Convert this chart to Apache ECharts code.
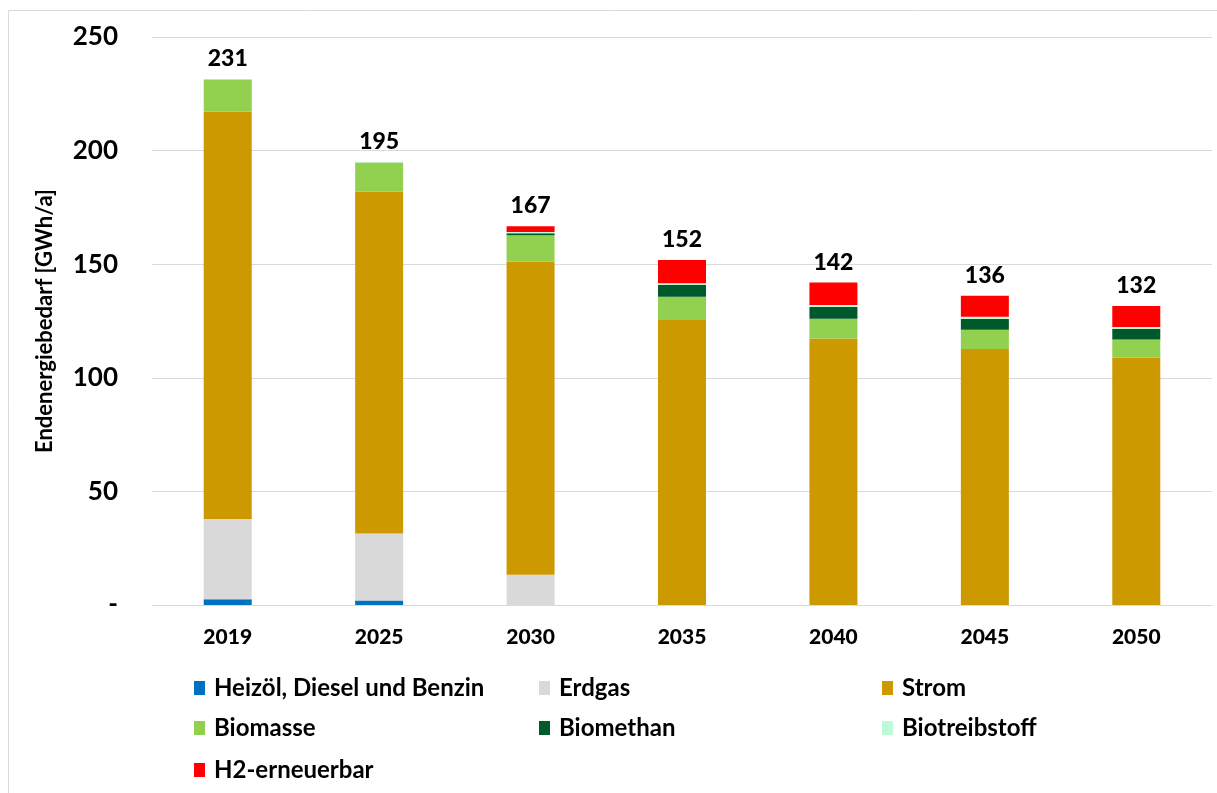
<!DOCTYPE html>
<html>
<head>
<meta charset="utf-8">
<script src="https://cdn.jsdelivr.net/npm/echarts@6/dist/echarts.min.js"></script>
<style>
  html, body { margin: 0; padding: 0; background: #fff; }
  #chart { width: 1217px; height: 793px; }
</style>
</head>
<body>
<div id="chart"></div>
<script>
// Endenergiebedarf nach Energieträger, GWh/a
const years = ['2019', '2025', '2030', '2035', '2040', '2045', '2050'];
const heizoel       = [2.5, 2.0, 0, 0, 0, 0, 0];
const erdgas        = [35.4, 29.5, 13.3, 0, 0, 0, 0];
const strom         = [179.2, 150.4, 137.8, 125.4, 117.3, 112.7, 108.8];
const biomasse      = [14.2, 12.9, 11.6, 10.3, 8.7, 8.5, 8.1];
const biomethan     = [0, 0, 0.9, 5.3, 5.2, 4.7, 4.7];
const biotreibstoff = [0, 0.3, 0.6, 0.6, 0.8, 1.0, 0.8];
const h2            = [0, 0, 2.5, 10.2, 9.9, 9.2, 9.2];
const yTicks = [0, 50, 100, 150, 200, 250];

const seriesDefs = [
  { name: 'Heizöl, Diesel und Benzin', data: heizoel, color: '#0070C0' },
  { name: 'Erdgas', data: erdgas, color: '#D9D9D9' },
  { name: 'Strom', data: strom, color: '#CC9900' },
  { name: 'Biomasse', data: biomasse, color: '#92D050' },
  { name: 'Biomethan', data: biomethan, color: '#00592B' },
  { name: 'Biotreibstoff', data: biotreibstoff, color: '#BDFADA' },
  { name: 'H2-erneuerbar', data: h2, color: '#FF0000' }
];

const totals = years.map((_, i) => seriesDefs.reduce((s, d) => s + d.data[i], 0));

const FONT = 'Lato, "Open Sans", sans-serif';

const series = seriesDefs.map(d => ({
  name: d.name,
  type: 'bar',
  stack: 'gesamt',
  barWidth: 48,
  itemStyle: { color: d.color },
  emphasis: { disabled: true },
  data: d.data
}));

// Summenbeschriftung über jedem Balken
series.push({
  name: 'Summe',
  type: 'bar',
  stack: 'gesamt',
  barWidth: 48,
  data: totals.map(() => 0),
  itemStyle: { color: 'transparent' },
  label: {
    show: true,
    position: 'top',
    distance: 9,
    formatter: p => Math.round(totals[p.dataIndex]).toString(),
    fontFamily: FONT,
    fontWeight: 900,
    fontSize: 23,
    color: '#000'
  }
});

// Legende in drei Spalten
const legendCols = [189, 534, 877];
const legendRows = [671, 711, 753];
const legends = seriesDefs.map((d, i) => ({
  data: [d.name],
  left: legendCols[i % 3],
  top: legendRows[Math.floor(i / 3)],
  icon: 'rect',
  itemWidth: 11,
  itemHeight: 14,
  itemGap: 0,
  selectedMode: false,
  textStyle: { fontFamily: FONT, fontWeight: 'bold', fontSize: 24, color: '#000', padding: [0, 0, 0, 4] }
}));

const chart = echarts.init(document.getElementById('chart'), null, { renderer: 'canvas' });
chart.setOption({
  animation: false,
  backgroundColor: '#fff',
  graphic: [{
    type: 'rect',
    shape: { x: 8.5, y: 10.5, width: 1220, height: 790 },
    style: { fill: 'none', stroke: '#D9D9D9', lineWidth: 1 },
    silent: true
  }],
  legend: legends,
  grid: { left: 152, right: 5, top: 37, bottom: 188, containLabel: false },
  xAxis: {
    type: 'category',
    data: years,
    axisLine: { lineStyle: { color: '#D9D9D9', width: 1 } },
    axisTick: { show: false },
    axisLabel: { fontFamily: FONT, fontWeight: 900, fontSize: 21, color: '#000', margin: 22 }
  },
  yAxis: {
    type: 'value',
    min: yTicks[0],
    max: yTicks[yTicks.length - 1],
    interval: 50,
    name: 'Endenergiebedarf [GWh/a]',
    nameLocation: 'middle',
    nameGap: 96,
    nameRotate: 90,
    nameTextStyle: { fontFamily: FONT, fontWeight: 'bold', fontSize: 22, color: '#000' },
    axisLine: { show: false },
    axisTick: { show: false },
    splitLine: { lineStyle: { color: '#D9D9D9', width: 1 } },
    axisLabel: {
      fontFamily: FONT, fontWeight: 'bold', fontSize: 26, color: '#000', margin: 34,
      formatter: v => (v === 0 ? '-' : String(v))
    }
  },
  series: series
});
</script>
</body>
</html>
